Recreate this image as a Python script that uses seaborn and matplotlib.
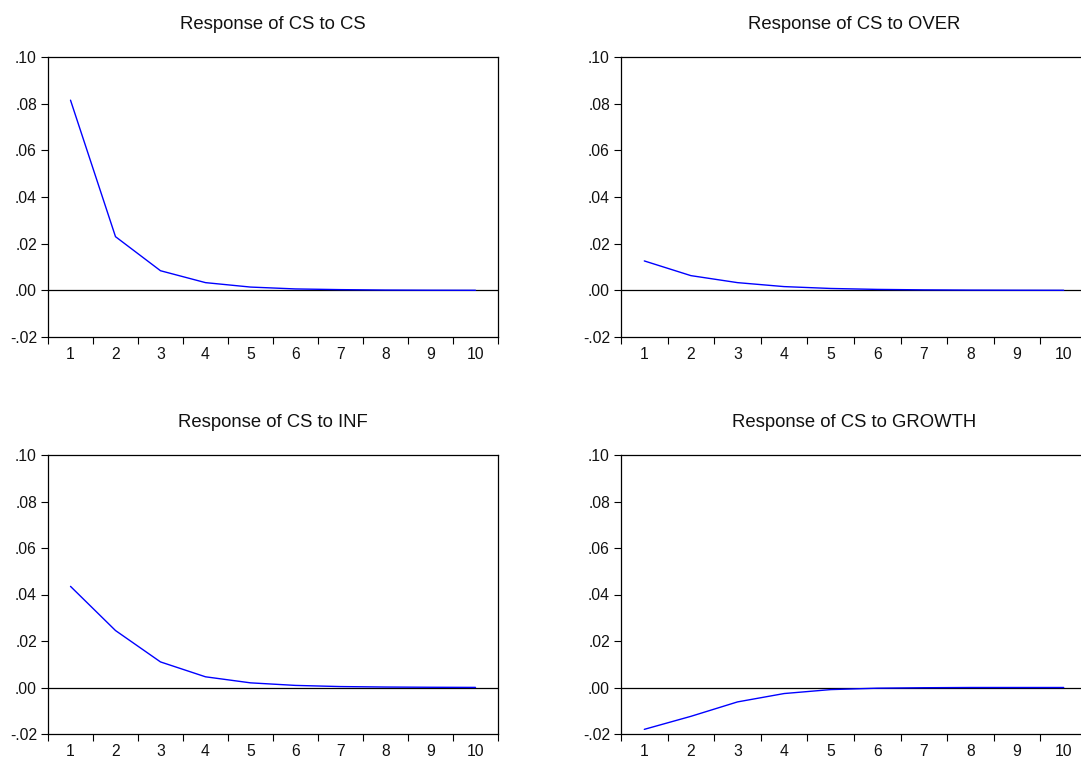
import numpy as np
import pandas as pd
import matplotlib
matplotlib.use("Agg")
import matplotlib.pyplot as plt
import seaborn as sns
from matplotlib.ticker import FixedLocator, FuncFormatter, NullFormatter

sns.set_theme(style="white")
plt.rcParams['font.family'] = ['Liberation Sans', 'DejaVu Sans']

periods = [1, 2, 3, 4, 5, 6, 7, 8, 9, 10]
titles = ["Response of CS to CS", "Response of CS to OVER",
          "Response of CS to INF", "Response of CS to GROWTH"]
cs_to_cs = [0.0815, 0.0230, 0.0084, 0.0033, 0.0014, 0.0006, 0.0003, 0.00012, 0.00005, 0.00002]
cs_to_over = [0.0126, 0.0063, 0.0033, 0.0016, 0.0008, 0.0004, 0.0002, 0.0001, 0.00005, 0.00002]
cs_to_inf = [0.0435, 0.0245, 0.0110, 0.0046, 0.0020, 0.0009, 0.0004, 0.0002, 0.0001, 0.00004]
cs_to_growth = [-0.0180, -0.0124, -0.0062, -0.0026, -0.0009, -0.0003, -0.0001, 0.0, 0.0, 0.0]
series = [cs_to_cs, cs_to_over, cs_to_inf, cs_to_growth]
yticks = [-0.02, 0.00, 0.02, 0.04, 0.06, 0.08, 0.10]

W, H = 1081, 758
fig = plt.figure(figsize=(W / 100, H / 100), dpi=100)

# axes rectangles in pixels: left, top, right, bottom
rects = [(48, 57, 498, 337), (621, 57, 1087, 337),
         (48, 455, 498, 734), (621, 455, 1087, 734)]

def fmt(v, pos):
    s = f"{v:.2f}"
    s = s.replace("0.", ".")
    if s == "-.00":
        s = ".00"
    return s

for (l, t, r, b), title, vals in zip(rects, titles, series):
    ax = fig.add_axes([l / W, (H - b) / H, (r - l) / W, (b - t) / H])
    df = pd.DataFrame({"period": periods, "value": vals})
    sns.lineplot(data=df, x="period", y="value", ax=ax, color="#0000FF", linewidth=1.0)
    ax.axhline(0, color="black", linewidth=0.9, zorder=1)
    ax.set_xlim(0.5, 10.5)
    ax.set_ylim(-0.02, 0.10)
    ax.xaxis.set_major_locator(FixedLocator(np.arange(0.5, 11, 1.0)))
    ax.xaxis.set_major_formatter(NullFormatter())
    ax.xaxis.set_minor_locator(FixedLocator(periods))
    ax.xaxis.set_minor_formatter(FuncFormatter(lambda v, p: f"{int(round(v))}"))
    ax.tick_params(axis="x", which="major", direction="out", length=5, width=0.8,
                   color="black", bottom=True)
    ax.tick_params(axis="x", which="minor", length=0, pad=7.5, labelsize=11.3,
                   labelcolor="#111111", bottom=True)
    ax.set_yticks(yticks)
    ax.yaxis.set_major_formatter(FuncFormatter(fmt))
    ax.tick_params(axis="y", direction="out", length=5, width=0.8, color="black",
                   left=True, labelsize=11.3, labelcolor="#111111", pad=3)
    for sp in ax.spines.values():
        sp.set_color("black")
        sp.set_linewidth(0.9)
        sp.set_visible(True)
    ax.set_xlabel("")
    ax.set_ylabel("")
    ax.set_title(title, fontsize=13.3, pad=20, color="#111111")

fig.savefig("out.png", dpi=100)
